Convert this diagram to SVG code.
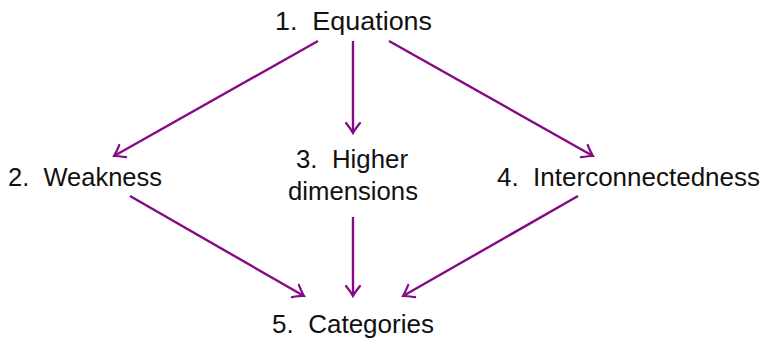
<svg xmlns="http://www.w3.org/2000/svg" width="765" height="339" viewBox="0 0 765 339">
<style>
text{font-family:"Liberation Sans","Arial",sans-serif;font-size:26px;fill:#111;text-anchor:middle}
.e{stroke:#850a85;stroke-width:2.4;fill:none;marker-end:url(#to)}
</style>
<defs>
<marker id="to" markerUnits="userSpaceOnUse" viewBox="-12 -9 14 18" markerWidth="14" markerHeight="18" refX="0" refY="0" orient="auto">
<path d="M-10,-7 Q-3,-1.5 0,0 Q-3,1.5 -10,7" fill="none" stroke="#850a85" stroke-width="2.2" stroke-linecap="round"/>
</marker>
</defs>
<rect width="765" height="339" fill="#fff"/>
<g id="connectors">
<path class="e" d="M318,41 L114,156"/>
<path class="e" d="M353,41 L353,133"/>
<path class="e" d="M389,41 L593,156"/>
<path class="e" d="M130,196 L304,296"/>
<path class="e" d="M353,217 L353,296"/>
<path class="e" d="M578,196 L403,296"/>
</g>
<g id="n1"><text x="353.5" y="30" textLength="157" lengthAdjust="spacingAndGlyphs">1.&#160; Equations</text></g>
<g id="n2"><text x="85" y="186" textLength="154" lengthAdjust="spacingAndGlyphs">2.&#160; Weakness</text></g>
<g id="n3"><text x="352" y="168" textLength="112" lengthAdjust="spacingAndGlyphs">3.&#160; Higher</text><text x="353" y="200" textLength="130" lengthAdjust="spacingAndGlyphs">dimensions</text></g>
<g id="n4"><text x="628.5" y="186" textLength="263" lengthAdjust="spacingAndGlyphs">4.&#160; Interconnectedness</text></g>
<g id="n5"><text x="353" y="333" textLength="162" lengthAdjust="spacingAndGlyphs">5.&#160; Categories</text></g>
</svg>
